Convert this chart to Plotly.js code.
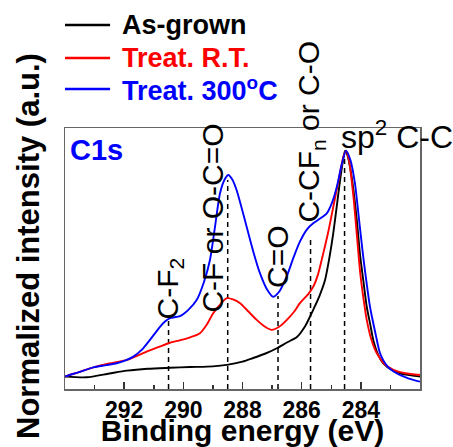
<!DOCTYPE html>
<html>
<head>
<meta charset="utf-8">
<script src="https://cdn.plot.ly/plotly-3.0.1.min.js"></script>
<style>html,body{margin:0;padding:0;background:#fff;}#chart{width:453px;height:447px;}</style>
</head>
<body>
<div id="chart"></div>
<script>
// Binding energy (eV) and normalized intensity, As-grown
const asGrownE = [294.00,293.27,292.5,291.91,291.2,290.45,289.77,289.0,288.53,288.0,287.64,287.2,286.84,286.5,286.16,285.9,285.72,285.61,285.4,285.21,285.05,284.93,284.80,284.70,284.60,284.53,284.45,284.35,284.25,284.13,284.02,283.90,283.80,283.68,283.58,283.40,283.24,282.95,282.67,282.3,282.00];
const asGrownI = [0.052,0.049,0.065,0.077,0.085,0.089,0.092,0.095,0.101,0.115,0.130,0.150,0.171,0.195,0.218,0.26,0.303,0.332,0.39,0.457,0.56,0.655,0.78,0.877,0.96,1.0,0.98,0.92,0.835,0.70,0.555,0.44,0.345,0.27,0.206,0.14,0.108,0.080,0.066,0.057,0.052];

// Treat. R.T.
const treatRTE = [294.00,293.94,293.5,293.04,292.5,291.91,291.24,290.8,290.45,290.1,289.77,289.44,289.2,288.99,288.75,288.53,288.3,288.08,287.8,287.52,287.25,287.01,286.75,286.50,286.25,286.06,285.8,285.61,285.45,285.27,285.10,284.93,284.76,284.59,284.50,284.40,284.25,284.13,284.02,283.90,283.80,283.65,283.46,283.2,282.90,282.5,282.00];
const treatRTI = [0.052,0.055,0.072,0.091,0.107,0.122,0.157,0.178,0.194,0.205,0.217,0.234,0.272,0.318,0.355,0.381,0.375,0.360,0.325,0.290,0.262,0.248,0.262,0.290,0.325,0.360,0.395,0.429,0.48,0.569,0.66,0.765,0.87,0.975,1.0,0.96,0.807,0.64,0.486,0.37,0.290,0.21,0.150,0.105,0.080,0.066,0.059];

// Treat. 300 C
const treat300E = [294.00,293.94,293.5,293.04,292.6,292.25,291.95,291.69,291.40,291.13,290.95,290.79,290.6,290.45,290.11,289.83,289.55,289.3,289.10,288.93,288.76,288.6,288.48,288.35,288.20,288.03,287.86,287.62,287.41,287.18,286.96,286.75,286.51,286.28,286.06,285.82,285.61,285.38,285.15,284.98,284.81,284.65,284.50,284.35,284.20,284.06,283.92,283.80,283.69,283.50,283.35,283.1,282.79,282.4,282.00];
const treat300I = [0.052,0.055,0.072,0.091,0.100,0.108,0.120,0.136,0.165,0.206,0.235,0.261,0.285,0.297,0.306,0.332,0.373,0.45,0.541,0.68,0.821,0.88,0.898,0.88,0.835,0.76,0.681,0.57,0.486,0.42,0.387,0.41,0.471,0.55,0.618,0.67,0.695,0.715,0.737,0.78,0.849,0.94,1.0,0.96,0.864,0.71,0.555,0.44,0.345,0.23,0.150,0.095,0.066,0.045,0.031];

// Peak assignments
const peakE = [290.5, 288.5, 286.8, 285.7, 284.55];
const peakLineTop = [0.298, 0.877, 0.39, 0.638, 0.98];
const peakLabels = ['C-F<sub>2</sub>', 'C-F or O-C=O', 'C=O', 'C-CF<sub>n</sub> or C-O', 'sp<sup>2</sup> C-C'];

const seriesNames = ['As-grown', 'Treat. R.T.', 'Treat. 300<sup>o</sup>C'];
const xTickVals = [292, 290, 288, 286, 284];

// layout-only settings (label placement, styling)
const seriesColors = ['#000000', '#ff0000', '#0000ff'];
const labelCenterY = [0.42, 0.718, 0.554, 1.078];
const labelShiftX = [1, -15, 0, 0];

const FONT = 'Arial, "Liberation Sans", sans-serif';

const traces = [];
peakE.forEach((e, i) => {
  traces.push({
    x: [e, e], y: [0, peakLineTop[i]], mode: 'lines', showlegend: false, hoverinfo: 'skip',
    line: {color: '#000', width: 1.5, dash: '5px,4px'}
  });
});
const seriesX = [asGrownE, treatRTE, treat300E];
const seriesY = [asGrownI, treatRTI, treat300I];
seriesNames.forEach((n, i) => {
  traces.push({x: seriesX[i], y: seriesY[i], mode: 'lines', name: n, showlegend: false,
    line: {color: seriesColors[i], width: 1.9, shape: 'spline', smoothing: 0.7}});
});

const annotations = [];
const shapes = [];
for (let i = 0; i < 4; i++) {
  annotations.push({
    x: peakE[i], y: labelCenterY[i], xref: 'x', yref: 'y', text: peakLabels[i], textangle: -90,
    showarrow: false, xanchor: 'center', yanchor: 'middle', xshift: labelShiftX[i],
    font: {family: FONT, size: 30, color: '#000'}
  });
}
annotations.push({
  x: peakE[4], y: peakLineTop[4], xref: 'x', yref: 'y', text: peakLabels[4],
  showarrow: false, xanchor: 'left', yanchor: 'bottom', xshift: -6, yshift: -2,
  font: {family: FONT, size: 32, color: '#000'}
});
annotations.push({
  x: 0, y: 1, xref: 'paper', yref: 'paper', text: '<b>C1s</b>', showarrow: false,
  xanchor: 'left', yanchor: 'top', xshift: 3, yshift: -4,
  font: {family: FONT, size: 29, color: '#0000ff'}
});
annotations.push({
  x: 0, y: 0.548, xref: 'paper', yref: 'paper', text: '<b>Normalized intensity (a.u.)</b>', textangle: -90,
  showarrow: false, xanchor: 'center', yanchor: 'middle', xshift: -36,
  font: {family: FONT, size: 31, color: '#000'}
});

// legend (drawn above the plot, as in the reference)
const legendRowY = [1.395, 1.268, 1.149];
seriesNames.forEach((n, i) => {
  shapes.push({type: 'line', xref: 'paper', yref: 'paper', x0: 0, x1: 0.127, y0: legendRowY[i], y1: legendRowY[i],
    line: {color: seriesColors[i], width: 2.5}});
  annotations.push({x: 0.155, y: legendRowY[i], xref: 'paper', yref: 'paper', text: '<b>' + n + '</b>',
    showarrow: false, xanchor: 'left', yanchor: 'middle',
    font: {family: FONT, size: 27, color: seriesColors[i]}});
});

const layout = {
  width: 453, height: 447,
  margin: {l: 65, r: 33, t: 128, b: 58},
  paper_bgcolor: '#fff', plot_bgcolor: '#fff',
  font: {family: FONT, color: '#000'},
  showlegend: false,
  xaxis: {
    range: [294, 282], tickvals: xTickVals, ticktext: xTickVals.map(String),
    ticks: 'inside', ticklen: 7, tickwidth: 1.5, tickcolor: '#333',
    minor: {dtick: 1, tick0: 0, ticks: 'inside', ticklen: 4, tickwidth: 1.5, tickcolor: '#333'},
    showline: true, linecolor: '#666', linewidth: 1.5, mirror: true,
    showgrid: false, zeroline: false,
    tickfont: {family: FONT, size: 23, weight: 'bold', color: '#000'},
    title: {text: '<b>Binding energy (eV)</b>', font: {family: FONT, size: 30, color: '#000'}, standoff: 7}
  },
  yaxis: {
    range: [0, 1.095], showticklabels: false, ticks: '',
    showline: true, linecolor: '#666', linewidth: 1.5, mirror: true,
    showgrid: false, zeroline: false
  },
  shapes: shapes,
  annotations: annotations
};

Plotly.newPlot('chart', traces, layout, {staticPlot: true, displayModeBar: false});
</script>
</body>
</html>
